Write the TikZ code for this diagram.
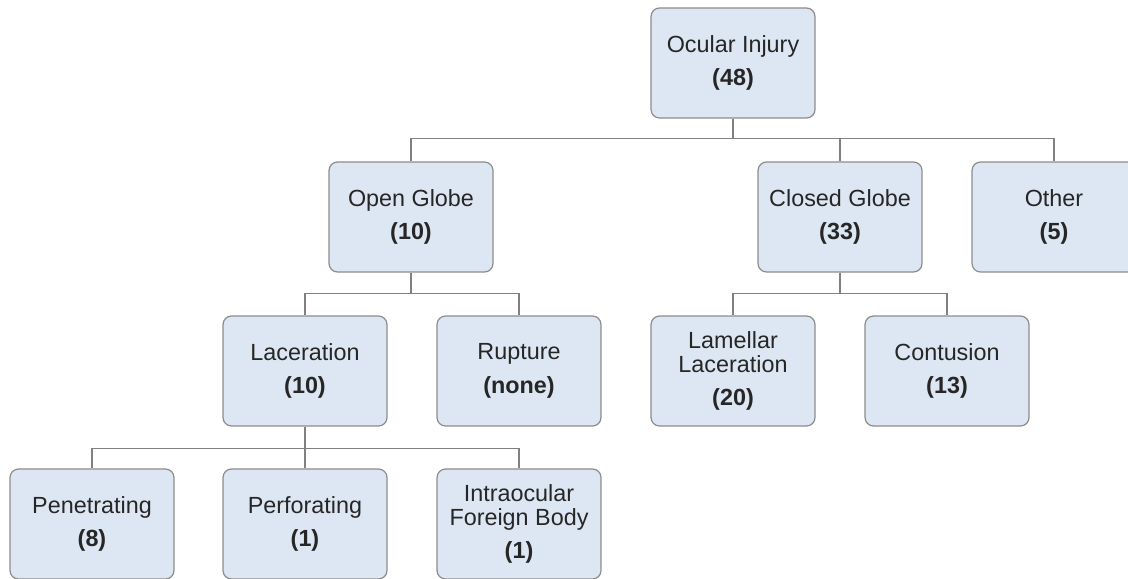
\documentclass[tikz,border=0pt]{standalone}
\usepackage{fontspec}
\setmainfont{Liberation Sans}
\definecolor{boxfill}{HTML}{DDE7F3}
\definecolor{boxline}{HTML}{8C8C8C}
\definecolor{linkline}{HTML}{808080}
\definecolor{textgray}{HTML}{262626}
\newcommand{\cnt}[1]{\\[5.5pt]\textbf{(#1)}}

\begin{document}
\begin{tikzpicture}[x=0.02cm,y=-0.02cm,
    box/.style={draw=boxline,fill=boxfill,line width=0.7pt,rounded corners=0.17cm,
      minimum width=3.28cm,minimum height=2.2cm,align=center,text=textgray,
      font=\fontsize{13.3}{13.5}\selectfont,inner sep=2pt},
    link/.style={draw=linkline,line width=0.6pt}]
    \useasboundingbox (0,0) rectangle (1128,578);

    % levels
    \node[box] (ocular) at (733,63) {Ocular Injury\cnt{48}};

    \node[box] (open) at (411,217) {Open Globe\cnt{10}};
    \node[box] (closed) at (840,217) {Closed Globe\cnt{33}};
    \node[box] (other) at (1054,217) {Other\cnt{5}};

    \node[box] (lacer) at (305,371) {Laceration\cnt{10}};
    \node[box] (rupture) at (519,371) {Rupture\cnt{none}};
    \node[box] (lamellar) at (733,371) {Lamellar\\Laceration\cnt{20}};
    \node[box] (contusion) at (947,371) {Contusion\cnt{13}};

    \node[box] (penet) at (92,524) {Penetrating\cnt{8}};
    \node[box] (perfor) at (305,524) {Perforating\cnt{1}};
    \node[box] (iofb) at (519,524) {Intraocular\\Foreign Body\cnt{1}};

    % connectors
    \foreach \kid in {open,closed,other}
      \draw[link] (ocular.south) -- ++(0,20) -| (\kid.north);
    \foreach \kid in {lacer,rupture}
      \draw[link] (open.south) -- ++(0,21) -| (\kid.north);
    \foreach \kid in {lamellar,contusion}
      \draw[link] (closed.south) -- ++(0,21) -| (\kid.north);
    \foreach \kid in {penet,perfor,iofb}
      \draw[link] (lacer.south) -- ++(0,22) -| (\kid.north);
\end{tikzpicture}
\end{document}
